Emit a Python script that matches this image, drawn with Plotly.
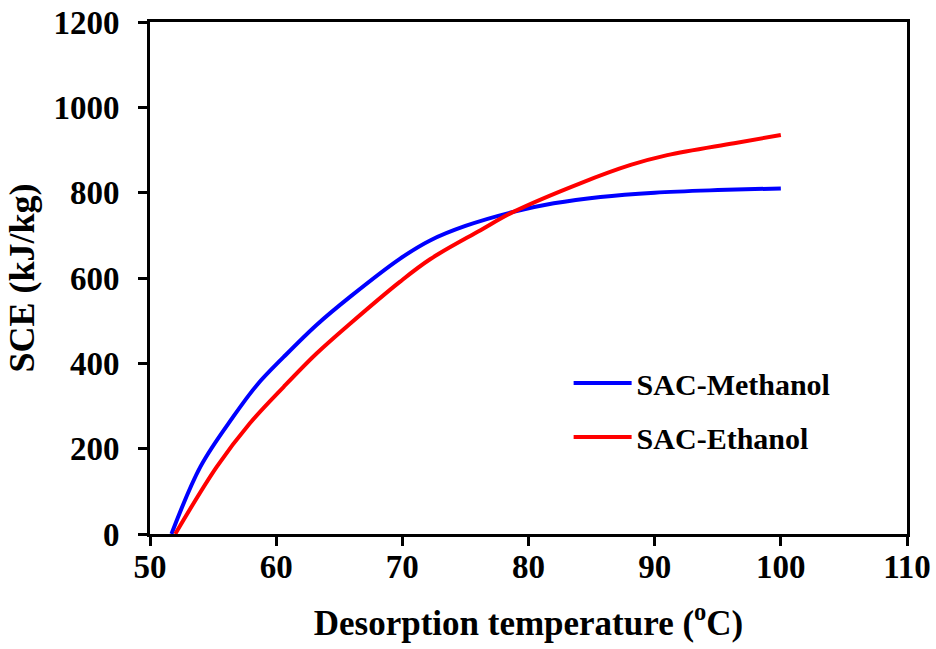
import plotly.graph_objects as go

# Desorption temperature (°C) and specific cooling effect (kJ/kg)
methanol_temp = [51.7, 54.0, 56.6, 58.5, 60.6, 63.2, 65.9, 69.8, 72.2, 75.0,
                 78.8, 82.0, 85.7, 90.0, 95.0, 100.0]
methanol_sce = [0, 158, 275, 350, 415, 490, 557, 645, 688, 722,
                755, 775, 790, 800, 806, 810]

ethanol_temp = [52.0, 55.3, 57.9, 60.6, 63.2, 65.9, 69.8, 72.2, 76.2, 78.8,
                84.1, 88.1, 91.0, 96.3, 100.0]
ethanol_sce = [0, 158, 259, 345, 423, 494, 591, 644, 712, 755,
               822, 865, 888, 916, 935]

x_ticks = [50, 60, 70, 80, 90, 100, 110]
y_ticks = [0, 200, 400, 600, 800, 1000, 1200]

FONT = "Liberation Serif"

fig = go.Figure()
fig.add_trace(go.Scatter(
    x=methanol_temp, y=methanol_sce, mode="lines", name="SAC-Methanol",
    line=dict(color="#0000FF", width=4, shape="spline", smoothing=1.0),
    legendgroup="m",
))
fig.add_trace(go.Scatter(
    x=ethanol_temp, y=ethanol_sce, mode="lines", name="SAC-Ethanol",
    line=dict(color="#FF0000", width=4, shape="spline", smoothing=1.0),
    legendgroup="e",
))

axis_common = dict(
    showgrid=False, zeroline=False, showline=True, linecolor="black",
    linewidth=3, mirror=True, ticks="outside", ticklen=9, tickwidth=3,
    tickcolor="black", automargin=False,
    tickfont=dict(family=FONT, size=33, color="black", weight="bold"),
)

fig.update_xaxes(
    range=[50, 110], tickvals=x_ticks, ticktext=[str(v) for v in x_ticks],
    title=dict(text="<b>Desorption temperature (<sup>o</sup>C)</b>",
               font=dict(family=FONT, size=35, color="black"), standoff=27),
    ticklabelstandoff=-8,
    **axis_common,
)
fig.update_yaxes(
    range=[0, 1200], tickvals=y_ticks, ticktext=[str(v) for v in y_ticks],
    title=dict(text="<b>SCE (kJ/kg)</b>",
               font=dict(family=FONT, size=36, color="black"), standoff=8),
    ticklabelstandoff=12,
    **axis_common,
)

fig.update_layout(
    width=936, height=649,
    margin=dict(l=150, r=29, t=22, b=115),
    paper_bgcolor="white", plot_bgcolor="white",
    showlegend=True,
    legend=dict(
        x=0.553, y=0.242, xanchor="left", yanchor="middle",
        bgcolor="rgba(0,0,0,0)", traceorder="grouped", tracegroupgap=12,
        itemwidth=58,
        font=dict(family=FONT, size=30, color="black", weight="bold"),
    ),
)

fig.write_html("out.html")
